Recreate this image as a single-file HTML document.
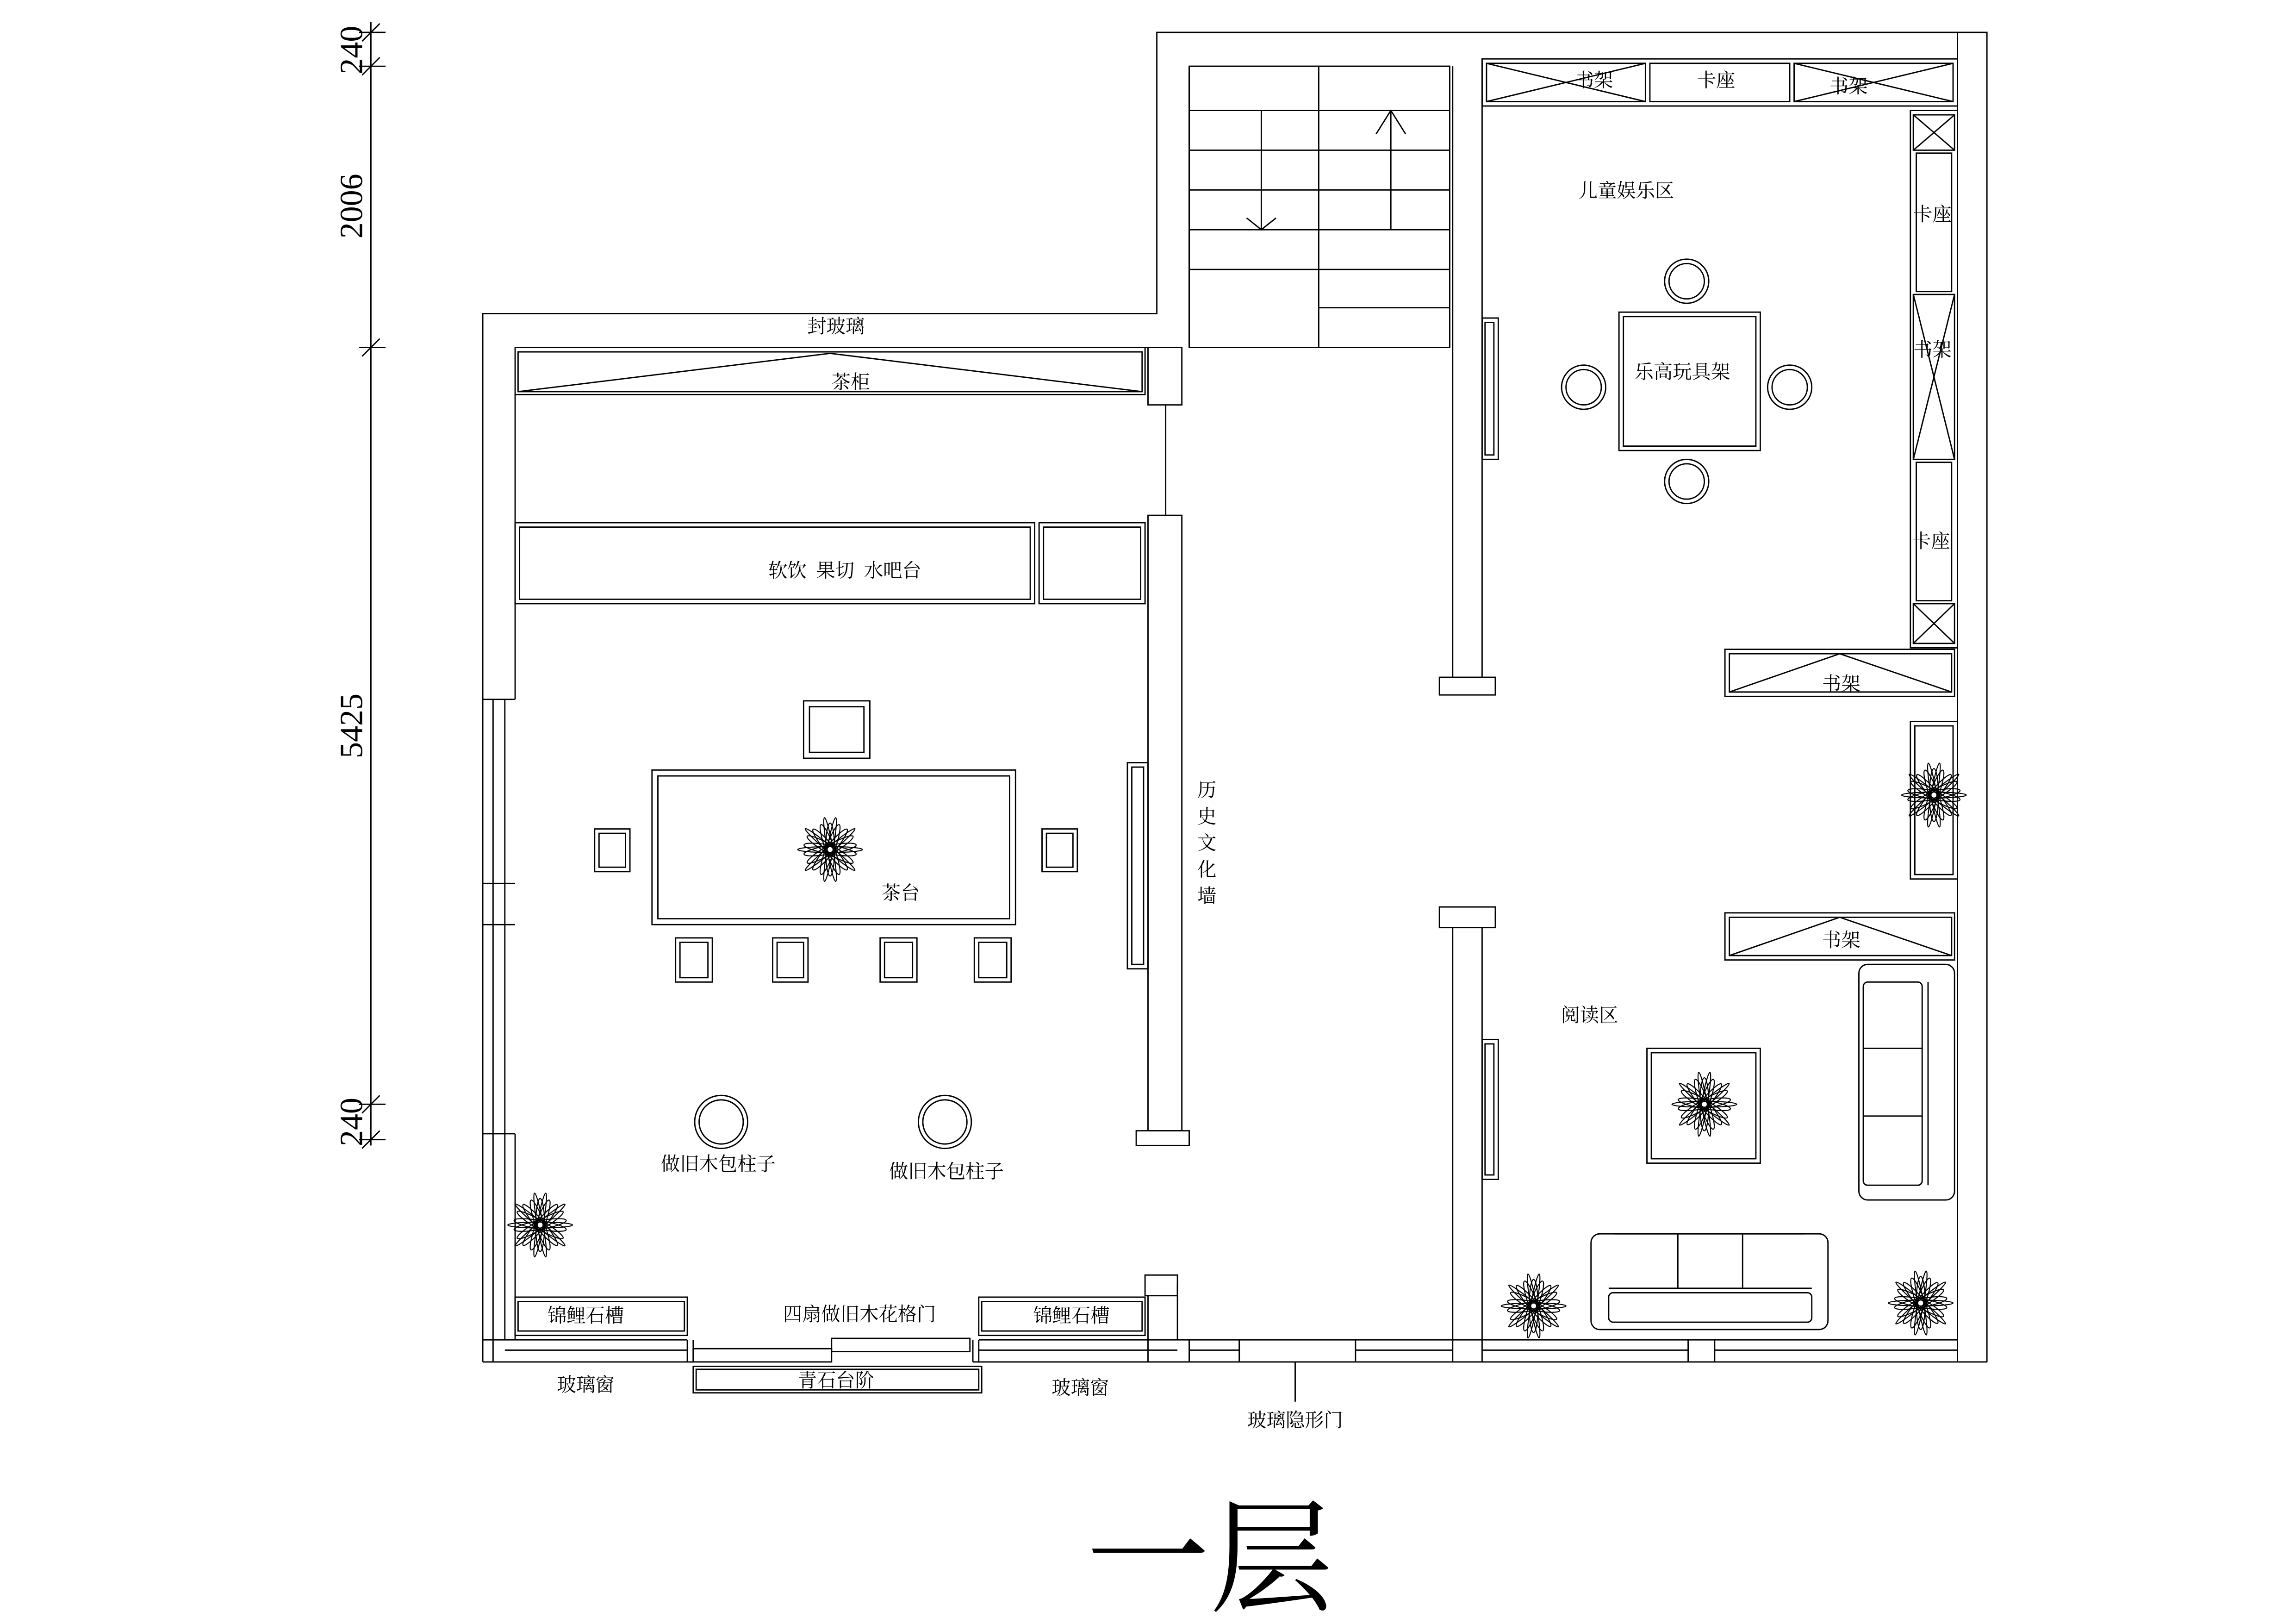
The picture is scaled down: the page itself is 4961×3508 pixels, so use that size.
<!DOCTYPE html>
<html><head><meta charset="utf-8"><style>html,body{margin:0;padding:0;background:#fff}svg{display:block}text{font-family:"Liberation Serif","Noto Serif CJK SC",serif;fill:#000}</style></head>
<body>
<svg width="4961" height="3508" viewBox="0 0 1560 1103" preserveAspectRatio="none" xmlns="http://www.w3.org/2000/svg">
<defs>
<g id="fl" fill="none" stroke="#000" stroke-width="0.7">
<ellipse rx="3" ry="18" transform="rotate(0)"/><ellipse rx="3" ry="18" transform="rotate(20)"/><ellipse rx="3" ry="18" transform="rotate(40)"/><ellipse rx="3" ry="18" transform="rotate(60)"/><ellipse rx="3" ry="18" transform="rotate(80)"/><ellipse rx="3" ry="18" transform="rotate(100)"/><ellipse rx="3" ry="18" transform="rotate(120)"/><ellipse rx="3" ry="18" transform="rotate(140)"/><ellipse rx="3" ry="18" transform="rotate(160)"/>
<ellipse rx="2" ry="22" transform="rotate(10)"/><ellipse rx="2" ry="22" transform="rotate(50)"/><ellipse rx="2" ry="22" transform="rotate(90)"/><ellipse rx="2" ry="22" transform="rotate(130)"/><ellipse rx="2" ry="22" transform="rotate(170)"/>
</g>
</defs>
<g fill="none" stroke="#000" stroke-width="0.9">
<!-- outer walls -->
<polyline points="328,925 328,213 786,213 786,22 1350,22 1350,925"/>
<polyline points="350,236 780,236"/>
<line x1="350" y1="268" x2="350" y2="475"/>
<line x1="350" y1="770" x2="350" y2="910"/>
<line x1="808" y1="45" x2="808" y2="236"/>
<line x1="808" y1="45" x2="985" y2="45"/>
<!-- left window -->
<line x1="335" y1="475" x2="335" y2="770"/><line x1="343" y1="475" x2="343" y2="770"/>
<line x1="328" y1="475" x2="350" y2="475"/><line x1="328" y1="600" x2="350" y2="600"/><line x1="328" y1="628" x2="350" y2="628"/><line x1="328" y1="770" x2="350" y2="770"/>
<line x1="335" y1="770" x2="335" y2="925"/><line x1="343" y1="770" x2="343" y2="910"/>
<!-- stairs -->
<rect x="808" y="45" width="177" height="191"/>
<line x1="896" y1="45" x2="896" y2="236"/>
<line x1="808" y1="75" x2="985" y2="75"/><line x1="808" y1="102" x2="985" y2="102"/><line x1="808" y1="129" x2="985" y2="129"/><line x1="808" y1="156" x2="985" y2="156"/><line x1="808" y1="183" x2="985" y2="183"/><line x1="896" y1="209" x2="985" y2="209"/>
<line x1="857" y1="75" x2="857" y2="156"/><polyline points="847,148 857,156 867,148"/>
<line x1="945" y1="75" x2="945" y2="156"/><polyline points="935,91 945,75 955,91"/>
<line x1="808" y1="183" x2="808" y2="236"/>
<!-- cha gui -->
<rect x="350" y="236" width="428" height="32"/><rect x="352" y="239" width="424" height="27"/>
<polyline points="352,266 564,240 776,266"/>
<rect x="780" y="236" width="23" height="39"/>
<line x1="792" y1="275" x2="792" y2="350"/>
<!-- bar -->
<rect x="350" y="355" width="353" height="55"/><rect x="353" y="358" width="347" height="49"/>
<rect x="706" y="355" width="72" height="55"/><rect x="709" y="358" width="66" height="49"/>
<!-- history wall -->
<rect x="780" y="350" width="23" height="418"/><rect x="772" y="768" width="36" height="10"/>
<rect x="766" y="518" width="14" height="140"/><rect x="769" y="521" width="8" height="134"/>
<!-- tea table -->
<rect x="443" y="523" width="247" height="105"/><rect x="447" y="527" width="239" height="97"/>
<rect x="546" y="476" width="45" height="39"/><rect x="550" y="480" width="37" height="31"/>
<rect x="404" y="563" width="24" height="29"/><rect x="407" y="566" width="18" height="23"/>
<rect x="708" y="563" width="24" height="29"/><rect x="711" y="566" width="18" height="23"/>
<rect x="459" y="637" width="25" height="30"/><rect x="462" y="640" width="19" height="24"/>
<rect x="525" y="637" width="24" height="30"/><rect x="528" y="640" width="18" height="24"/>
<rect x="598" y="637" width="25" height="30"/><rect x="601" y="640" width="19" height="24"/>
<rect x="662" y="637" width="25" height="30"/><rect x="665" y="640" width="19" height="24"/>
<circle cx="490" cy="762" r="18"/><circle cx="490" cy="762" r="15"/>
<circle cx="642" cy="762" r="18"/><circle cx="642" cy="762" r="15"/>
<!-- koi troughs -->
<rect x="350" y="881" width="117" height="26"/><rect x="352" y="884" width="113" height="20"/>
<rect x="665" y="881" width="113" height="26"/><rect x="667" y="884" width="109" height="20"/>
<!-- bottom left wall -->
<line x1="328" y1="910" x2="467" y2="910"/><line x1="343" y1="917" x2="467" y2="917"/><line x1="328" y1="925" x2="471" y2="925"/>
<line x1="467" y1="910" x2="467" y2="925"/><line x1="471" y1="910" x2="471" y2="925"/>
<rect x="471" y="916" width="94" height="9"/><rect x="565" y="909" width="94" height="9"/>
<line x1="661" y1="910" x2="661" y2="925"/><line x1="665" y1="910" x2="665" y2="925"/>
<line x1="665" y1="910" x2="800" y2="910"/><line x1="665" y1="917" x2="800" y2="917"/><line x1="661" y1="925" x2="1350" y2="925"/>
<rect x="471" y="928" width="196" height="18"/><rect x="473" y="930" width="192" height="14"/>
<rect x="778" y="866" width="22" height="14"/>
<polyline points="780,880 780,925"/><polyline points="800,872 800,910 1330,910"/>
<line x1="808" y1="910" x2="808" y2="925"/>
<line x1="808" y1="917" x2="842" y2="917"/><line x1="921" y1="917" x2="987" y2="917"/>
<line x1="842" y1="910" x2="842" y2="925"/><line x1="921" y1="910" x2="921" y2="925"/>
<line x1="1007" y1="917" x2="1147" y2="917"/><line x1="1165" y1="917" x2="1330" y2="917"/>
<line x1="1147" y1="910" x2="1147" y2="925"/><line x1="1165" y1="910" x2="1165" y2="925"/>
<line x1="880" y1="925" x2="880" y2="952"/>
<!-- center wall -->
<line x1="987" y1="45" x2="987" y2="460"/><line x1="1007" y1="40" x2="1007" y2="460"/>
<rect x="978" y="460" width="38" height="12"/>
<rect x="978" y="616" width="38" height="14"/>
<line x1="987" y1="630" x2="987" y2="925"/><line x1="1007" y1="630" x2="1007" y2="925"/>
<rect x="1007" y="216" width="11" height="96"/><rect x="1009" y="219" width="6" height="90"/>
<rect x="1007" y="706" width="11" height="95"/><rect x="1009" y="709" width="6" height="89"/>
<!-- right room top shelves -->
<rect x="1007" y="40" width="323" height="32"/><line x1="1330" y1="22" x2="1330" y2="925"/>
<rect x="1010" y="43" width="108" height="26"/><polyline points="1010,43 1118,69"/><polyline points="1010,69 1118,43"/>
<rect x="1121" y="43" width="95" height="26"/>
<rect x="1219" y="43" width="108" height="26"/><polyline points="1219,43 1327,69"/><polyline points="1219,69 1327,43"/>
<!-- right column -->
<rect x="1298" y="75" width="32" height="365"/>
<rect x="1300" y="78" width="28" height="24"/><polyline points="1300,78 1328,102"/><polyline points="1300,102 1328,78"/>
<rect x="1302" y="104" width="24" height="94"/>
<rect x="1300" y="200" width="28" height="112"/><polyline points="1300,200 1328,312"/><polyline points="1300,312 1328,200"/>
<rect x="1302" y="314" width="24" height="94"/>
<rect x="1300" y="410" width="28" height="27"/><polyline points="1300,410 1328,437"/><polyline points="1300,437 1328,410"/>
<!-- toy table -->
<rect x="1100" y="212" width="96" height="94"/><rect x="1103" y="215" width="90" height="88"/>
<circle cx="1146" cy="191" r="15"/><circle cx="1146" cy="191" r="12"/>
<circle cx="1146" cy="327" r="15"/><circle cx="1146" cy="327" r="12"/>
<circle cx="1076" cy="263" r="15"/><circle cx="1076" cy="263" r="12"/>
<circle cx="1216" cy="263" r="15"/><circle cx="1216" cy="263" r="12"/>
<!-- shelves -->
<rect x="1172" y="441" width="156" height="32"/><rect x="1175" y="444" width="151" height="26"/><polyline points="1175,470 1250,444 1326,470"/>
<rect x="1298" y="490" width="32" height="107"/><rect x="1301" y="493" width="26" height="101"/>
<rect x="1172" y="620" width="156" height="32"/><rect x="1175" y="623" width="151" height="26"/><polyline points="1175,649 1250,623 1326,649"/>
<!-- right sofa -->
<rect x="1263" y="655" width="65" height="160" rx="6"/>
<rect x="1266" y="667" width="40" height="138" rx="3"/>
<line x1="1266" y1="712" x2="1306" y2="712"/><line x1="1266" y1="758" x2="1306" y2="758"/>
<line x1="1310" y1="667" x2="1310" y2="805"/>
<!-- reading table -->
<rect x="1119" y="712" width="77" height="78"/><rect x="1122" y="715" width="71" height="72"/>
<!-- bottom sofa -->
<rect x="1081" y="838" width="161" height="65" rx="6"/>
<rect x="1093" y="878" width="138" height="20" rx="3"/>
<line x1="1093" y1="875" x2="1231" y2="875"/>
<line x1="1140" y1="838" x2="1140" y2="875"/><line x1="1184" y1="838" x2="1184" y2="875"/>
<line x1="1097" y1="838" x2="1226" y2="838"/>
</g>
<use href="#fl" transform="translate(564,577)"/>
<use href="#fl" transform="translate(367,832)"/>
<use href="#fl" transform="translate(1314,540)"/>
<use href="#fl" transform="translate(1158,750)"/>
<use href="#fl" transform="translate(1042,887)"/>
<use href="#fl" transform="translate(1305,885)"/>
<!-- dimension -->
<g stroke="#000" stroke-width="0.9">
<line x1="252" y1="15" x2="252" y2="778"/>
<line x1="246" y1="28" x2="258" y2="16"/><line x1="246" y1="51" x2="258" y2="39"/><line x1="246" y1="242" x2="258" y2="230"/><line x1="246" y1="756" x2="258" y2="744"/><line x1="246" y1="780" x2="258" y2="768"/>
<line x1="244" y1="22" x2="262" y2="22"/><line x1="244" y1="45" x2="262" y2="45"/><line x1="244" y1="236" x2="262" y2="236"/><line x1="244" y1="750" x2="262" y2="750"/><line x1="244" y1="774" x2="262" y2="774"/>
</g>
<g font-size="22" text-anchor="middle">
<text transform="translate(246,34) rotate(-90)">240</text>
<text transform="translate(246,140) rotate(-90)">2006</text>
<text transform="translate(246,493) rotate(-90)">5425</text>
<text transform="translate(246,762) rotate(-90)">240</text>
</g>
<g font-size="13" text-anchor="middle">
<text x="568" y="226">封玻璃</text>
<text x="578" y="264">茶柜</text>
<text x="574" y="392">软饮&#160;&#160;果切&#160;&#160;水吧台</text>
<text x="612" y="611">茶台</text>
<text x="488" y="795">做旧木包柱子</text>
<text x="643" y="800">做旧木包柱子</text>
<text x="398" y="898">锦鲤石槽</text>
<text x="728" y="898">锦鲤石槽</text>
<text x="584" y="897">四扇做旧木花格门</text>
<text x="568" y="942">青石台阶</text>
<text x="398" y="945">玻璃窗</text>
<text x="734" y="947">玻璃窗</text>
<text x="880" y="969">玻璃隐形门</text>
<text x="820" y="541">历</text><text x="820" y="559">史</text><text x="820" y="577">文</text><text x="820" y="595">化</text><text x="820" y="613">墙</text>
<text x="1083" y="59">书架</text><text x="1166" y="59">卡座</text><text x="1256" y="63">书架</text>
<text x="1105" y="134">儿童娱乐区</text>
<text x="1143" y="257">乐高玩具架</text>
<text x="1313" y="150">卡座</text><text x="1313" y="242">书架</text><text x="1312" y="372">卡座</text>
<text x="1251" y="469">书架</text>
<text x="1251" y="643">书架</text>
<text x="1080" y="694">阅读区</text>
</g>
<text x="822" y="1088" font-size="84" text-anchor="middle">一层</text>
</svg>
</body></html>
